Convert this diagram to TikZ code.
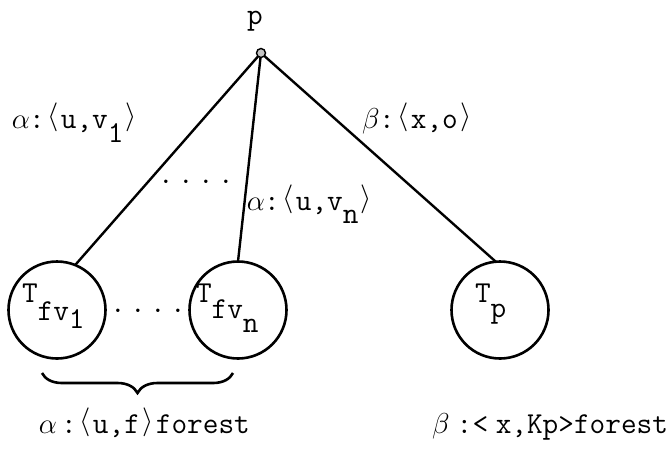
\documentclass[tikz,border=0pt]{standalone}
\usepackage{graphicx}
\usetikzlibrary{decorations.pathreplacing}
\newcommand\tw[1]{\makebox[0.525em][c]{#1}}
\newcommand\lab{\tw{\raisebox{0.12em}{$\langle$}}}
\newcommand\rab{\tw{\raisebox{0.12em}{$\rangle$}}}
\newcommand\dotrow{\makebox[10pt]{.}\makebox[10pt]{.}\makebox[10pt]{.}\makebox[10pt]{.}}
\begin{document}
\begin{tikzpicture}[x=0.5pt,y=-0.5pt,
  every node/.style={font=\fontsize{15.2}{18}\selectfont\ttfamily, inner sep=0pt, outer sep=0pt},
  treecirc/.style={draw, circle, line width=1.3pt, minimum size=48.5pt},
  edgeline/.style={line width=1.2pt},
  txt/.style={anchor=base west},
  rootdot/.style={draw, circle, fill=gray!45, line width=0.7pt, minimum size=4.5pt},
  bracestyle/.style={line width=1.3pt, decorate, decoration={brace, mirror, amplitude=10pt}}]
\useasboundingbox (0,0) rectangle (672,450);
% root
\node[rootdot] (root) at (261,53) {};
\node[txt] (plab) at (247,24) {p};
% subtrees
\node[treecirc] (c1) at (57,310) {};
\node[treecirc] (c2) at (238,310) {};
\node[treecirc] (c3) at (500,310) {};
% connectors
\draw[edgeline] (root) -- (c1.68);
\draw[edgeline] (root) -- (c2.north);
\draw[edgeline] (root) -- (c3.95);
% edge labels
\node[txt] (l1) at (13,128) {\tw{$\alpha$}\tw{:}\lab u,v\raisebox{-7pt}{1}\rab};
\node[txt] (l2) at (363,128) {\tw{$\beta$}\tw{:}\lab x,o\rab};
\node[txt] (l3) at (248,210) {\tw{$\alpha$}\tw{:}\lab u,v\raisebox{-6.5pt}{n}\rab};
\node (dotsA) at (196,182) {\dotrow};
% circle labels
\node[txt] (t1) at (22,302) {T\raisebox{-9pt}{fv\raisebox{-4pt}{1}}};
\node[txt] (t2) at (196,302) {T\raisebox{-8pt}{fv\raisebox{-7pt}{n}}};
\node[txt] (t3) at (475,302) {T\raisebox{-7.5pt}{p}};
\node (dotsB) at (148,311) {\dotrow};
% brace
\coordinate (bl) at (42,373);
\coordinate (br) at (233,373);
\draw[bracestyle] (bl) -- (br);
% forest labels
\node[txt] (f1) at (40,433) {\tw{$\alpha$}\,\tw{:}\lab u,f\rab forest};
\node[anchor=base east] (f2) at (668,433) {\tw{$\beta$}\hspace{0.25em}\tw{:}<\hspace{0.25em}x,Kp>forest};
\end{tikzpicture}
\end{document}
